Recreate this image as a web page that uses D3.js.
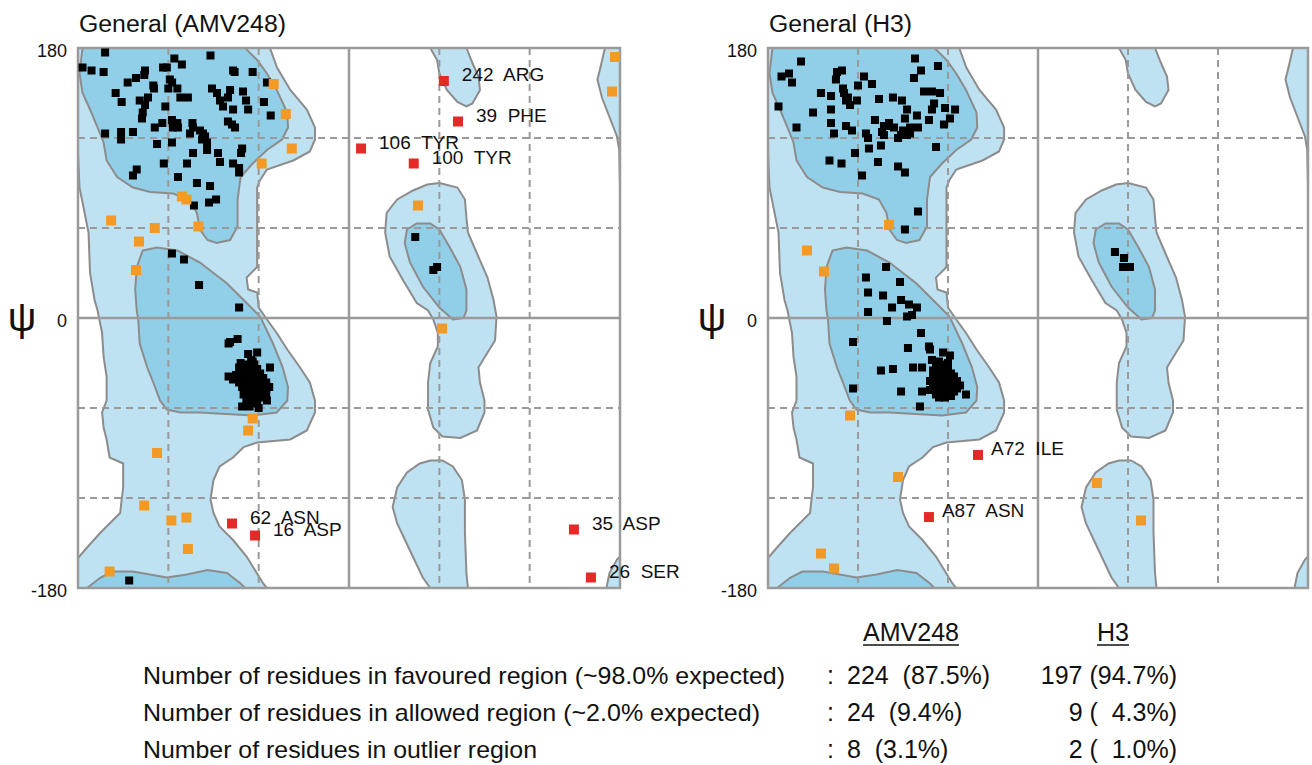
<!DOCTYPE html>
<html>
<head>
<meta charset="utf-8">
<script src="https://cdn.jsdelivr.net/npm/d3@7"></script>
<style>
body{margin:0;background:#fff;}
text{font-family:"Liberation Sans",Arial,sans-serif;fill:#111;}
</style>
</head>
<body>
<div id="chart"></div>
<script>
// grid / axis values (degrees)
const gridDashed = [-120, -60, 60, 120];
const psiTickLabels = [180, 0, -180];

// Ramachandran contours, [phi, psi]
const allowedMain = [[-180,180],[-52.5,180],[-47.8,167],[-39,152],[-28,139],[-22.6,127],[-22.6,119],[-26,111],[-37,105],[-54.5,99],[-59,92],[-61,87],[-61,57],[-61,34],[-68,27],[-67,19],[-61,17],[-60,7],[-54.5,-1],[-48,-10],[-41,-21],[-32.5,-33],[-26,-43],[-22.6,-55],[-22.6,-63],[-28,-75],[-39,-81],[-61,-83],[-70,-86],[-77,-93],[-86,-99],[-90,-108],[-92,-121],[-90,-130],[-86,-139],[-77,-148],[-68,-159],[-57,-177],[-54.5,-180],[-180,-180],[-180,-160],[-174,-153],[-165,-143],[-157,-135],[-152,-130],[-151,-121],[-150,-113],[-150,-97],[-159,-93],[-161,-81],[-163,-73],[-164,-63],[-161,-55],[-161,-39],[-163,-26],[-164,-10],[-167,5],[-169,12],[-172,30],[-173,57],[-177,77],[-179,87],[-180,110]];
const allowedLH = [[60,90],[72,87],[77,79],[78,67],[79,57],[85,43],[92,27],[96,12],[98,1],[97,-15],[89,-28],[86,-33],[87,-43],[90,-55],[90,-63],[85,-75],[74,-80],[62,-79],[56,-73],[52.5,-61],[52.5,-43],[54,-30],[59,-19],[59,-10],[56,-1],[52.5,5],[45,10],[36,25],[27,41],[24,57],[25,70],[32,79],[42.5,85],[52,89]];
const allowedTop60 = [[54,180],[78,180],[82,170],[86,161],[87,152],[82,143],[78,141],[72,144],[65,152],[60,163],[58.5,172]];
const allowedBottom60 = [[54,-95],[62,-95],[69,-99],[75,-108],[77,-121],[77,-143],[78,-170],[79,-180],[54,-180],[49,-173],[40.5,-155],[32,-137],[29,-126],[32,-113],[38.5,-103],[47,-97]];
const allowedEdge = [[170,180],[180,180],[180,88],[179.5,112],[178,121],[173,134],[168,147],[165,159],[167,167]];
const allowedCorner = [[171,-180],[173,-170],[178,-161],[180,-159],[180,-180]];
const favouredBeta = [[-177,180],[-69,180],[-61,172],[-54.5,163],[-48,152],[-41,137],[-40.5,127],[-44.5,119],[-54.5,112],[-64,103],[-72,94],[-74,79],[-74,61],[-79,52],[-88,50],[-94,52],[-99,59],[-101,70],[-106,79],[-117,83],[-132,84],[-143.5,87],[-154,94],[-161,105],[-163,117],[-167,127],[-172,139],[-177,150],[-179,163]];
const favouredBetaWrap = [[-174,-180],[-165,-173],[-157,-169],[-143.5,-169],[-121,-173],[-107.6,-171],[-94,-168],[-81,-170],[-72,-177],[-69,-180]];
const favouredAlpha = [[-137,45],[-127.5,47],[-114,45],[-99,37],[-81,23],[-68,10],[-59,1],[-50.5,-17],[-44,-33],[-40.5,-46],[-41,-55],[-48,-63],[-64,-65],[-99,-63],[-112,-63],[-121,-61],[-125.5,-55],[-130,-43],[-134,-33],[-139,-17],[-140,-1],[-141,5],[-142,19],[-141,34]];
const favouredLH = [[45,63],[54,63],[60,59],[67,47],[74,34],[78,19],[78,5],[76,0],[69,-1],[60,7],[49,21],[40.5,37],[37,50],[38.5,59]];

// AMV248 residues
const amvFavoured = [[-162,177],[-92,175],[-177,167],[-171,165],[-163,164],[-116,173],[-111,169],[-123.5,167],[-121,167],[-135.5,165],[-136,162],[-77,165],[-76,164],[-64,164],[-54.5,157],[-141.5,160],[-147,157],[-130,155],[-129.5,153],[-119,159],[-117.5,157],[-120,153],[-114,153],[-112,147],[-107,147],[-155,150],[-151,144],[-139,145],[-133.5,147],[-135.5,142],[-137,137],[-137.5,133],[-122,141],[-91,153],[-79,152],[-87.7,150],[-80.4,147],[-85.7,145],[-83.7,141],[-70.4,151],[-68.4,145],[-77,139],[-67,139],[-56.5,144],[-52,135],[-129,127],[-124,130],[-117.6,132],[-117,127],[-114,130],[-113.6,127],[-104,130],[-105.6,123],[-103.6,127],[-99,125],[-97.6,119],[-97,123],[-95.6,121],[-94.3,117],[-80.4,131],[-77.7,129],[-75.7,127],[-162,123],[-151.4,124],[-143.5,124],[-151.4,119],[-127.5,116],[-117.6,117],[-103.6,110],[-107.6,103],[-94.3,112],[-87,110],[-71,113],[-71.7,110],[-85.7,104],[-77,103],[-73,100],[-73,97],[-123,103],[-143.5,95],[-141,99],[-113.6,94],[-101,90],[-92.3,88],[-88.3,79],[-93,77],[-103,75],[-117.6,43],[-109.6,39],[-99.6,22],[-73,7],
  [-79,-16],[-74,-14],[-80,-17],[-67,-24],[-61,-23],[-72,-30],[-64,-29],[-80,-39],[-52.5,-33],[-71,-59],[-60,-60],[-54.5,-55],[-68,-55],
  [-75,-38],[-73,-33],[-73,-43],[-71,-36],[-71,-40],[-71,-46],[-69,-31],[-69,-35],[-69,-39],[-69,-43],[-69,-48],[-67,-34],[-67,-38],[-67,-42],[-67,-46],[-67,-51],[-65,-28],[-65,-33],[-65,-37],[-65,-41],[-65,-45],[-65,-49],[-65,-54],[-63,-31],[-63,-35],[-63,-39],[-63,-43],[-63,-47],[-63,-52],[-63,-57],[-61,-34],[-61,-38],[-61,-42],[-61,-46],[-61,-50],[-61,-55],[-59,-37],[-59,-41],[-59,-45],[-59,-49],[-59,-53],[-57,-40],[-57,-44],[-57,-48],[-57,-52],[-55,-43],[-55,-47],[-55,-51],[-53,-46],[-77,-41],[-68,-56],[-66,-59],[-70,-51],
  [-146,-175],[44,54],[56,32],[58.5,34]];
const amvAllowed = [[-50,156],[-42,136],[-38,113],[-58,103],[-111,81],[-108,79],[-158,65],[-129,60],[-100,61],[-139.5,51],[-141.5,32],[176.7,174],[174.7,151],[45.8,75],[61.8,-7],[-64,-67],[-67,-75],[-127.5,-90],[-136,-125],[-118,-135],[-108,-133],[-107,-154],[-159,-169]];
const amvOutliers = [[63,158],[72.4,131],[8,113],[43,103],[-77.7,-137],[-62.4,-145],[149.4,-141],[160.7,-173]];
const amvOutlierLabels = ["242  ARG","39  PHE","106  TYR","100  TYR","62  ASN","16  ASP","35  ASP","26  SER"];

// H3 residues
const h3Favoured = [[-158,171],[-171,161],[-166,163],[-164,157],[-173,141],[-161,127],[-150,137],[-144.7,150],[-138,148],[-138,139],[-138,130],[-136,123],[-139,105],[-131,103],[-134,164],[-130.7,165],[-134.7,159],[-130,153],[-129.3,150],[-128,145],[-125.3,142],[-126.7,147],[-120.7,145],[-120,155],[-116,161],[-110.7,156],[-106,146],[-108.7,132],[-102.7,128],[-99.3,130],[-96.7,147],[-90.7,145],[-87.3,139],[-82,173],[-78,165],[-82.7,160],[-66.7,168],[-76,151],[-70.7,151],[-65.3,150],[-69.3,143],[-70.7,139],[-62,140],[-55.3,139],[-58.7,133],[-62.7,129],[-72.7,132],[-80.7,135],[-80,127],[-85.3,127],[-88.7,133],[-90,125],[-91.3,122],[-93.3,120],[-87.3,122],[-85.3,123],[-96,127],[-100.7,128],[-102.7,122],[-104,124],[-114.7,123],[-113.3,120],[-128,128],[-124,125],[-122,110],[-112.7,113],[-104.7,115],[-106.7,104],[-93.3,101],[-88.7,97],[-68,114],[-117.3,95],[-80,71],[-88.7,59],
  [-101.3,34],[-114.7,27],[-92,24],[-113.3,17],[-103.3,15],[-91.3,12],[-86,9],[-80.7,7],[-97.3,7],[-113.3,4],[-87.3,1],[-84,2],[-100.7,-2],[-78,-10],[-123.3,-16],[-86.7,-20],[-72.7,-19],[-72,-21],[-63.3,-23],[-58.7,-25],[-104.7,-35],[-96.7,-34],[-83.3,-33],[-77.3,-33],[-70.7,-28],[-123.3,-47],[-91.3,-49],[-77.3,-49],[-72,-48],[-78.7,-59],[-48,-51],
  [-70,-35],[-70,-40],[-70,-45],[-68,-32],[-68,-37],[-68,-42],[-68,-47],[-68,-51],[-66,-34],[-66,-39],[-66,-44],[-66,-49],[-66,-53],[-64,-31],[-64,-36],[-64,-41],[-64,-46],[-64,-51],[-62,-33],[-62,-38],[-62,-43],[-62,-48],[-62,-53],[-60,-35],[-60,-40],[-60,-45],[-60,-50],[-58,-37],[-58,-42],[-58,-47],[-58,-52],[-56,-39],[-56,-44],[-56,-49],[-54,-42],[-54,-47],[-52,-45],[-72,-42],[-66,-29],[-60,-30],
  [51.3,44],[57.3,40],[56.7,34],[61.3,34]];
const h3Allowed = [[-99.3,62],[-154,45],[-142.7,31],[-125.3,-65],[-93.3,-106],[-144.7,-157],[-136,-167],[39.3,-110],[68.7,-135]];
const h3Outliers = [[-40,-91.3],[-72.7,-132.7]];
const h3OutlierLabels = ["A72  ILE","A87  ASN"];

// summary table
const summaryLabels = ["Number of residues in favoured region (~98.0% expected)","Number of residues in allowed region (~2.0% expected)","Number of residues in outlier region"];
const summaryLabelWidths = [642, 617, 394];
const structures = ["AMV248","H3"];
const amvCounts = ["224  (87.5%)","24  (9.4%)","8  (3.1%)"];
const h3Counts = ["197 (94.7%)","9 (  4.3%)","2 (  1.0%)"];

const width = 1312, height = 765;
const plotTop = 48, plotBottom = 588;
const light = "#bfe2f3", dark = "#91cfe9", edge = "#8c8c8c", gridCol = "#9a9a9a";

const svg = d3.select("#chart").append("svg")
    .attr("width", width).attr("height", height);

const panels = [
    {x0: 78, x1: 620, title: "General (AMV248)", titleW: 207, fav: amvFavoured, alw: amvAllowed, out: amvOutliers, labels: amvOutlierLabels, labelDx: 18},
    {x0: 768, x1: 1308, title: "General (H3)", titleW: 143, fav: h3Favoured, alw: h3Allowed, out: h3Outliers, labels: h3OutlierLabels, labelDx: 13}
];

panels.forEach((p, i) => {
    const x = d3.scaleLinear().domain([-180, 180]).range([p.x0, p.x1]);
    const y = d3.scaleLinear().domain([-180, 180]).range([plotBottom, plotTop]);
    const g = svg.append("g");

    g.append("clipPath").attr("id", "clip" + i)
        .append("rect")
        .attr("x", p.x0).attr("y", plotTop)
        .attr("width", p.x1 - p.x0).attr("height", plotBottom - plotTop);

    const line = d3.line()
        .x(d => x(d[0])).y(d => y(d[1]))
        .curve(d3.curveLinearClosed);

    const regions = g.append("g").attr("clip-path", "url(#clip" + i + ")");
    [allowedMain, allowedLH, allowedTop60, allowedBottom60, allowedEdge, allowedCorner].forEach(poly => {
        regions.append("path").attr("d", line(poly))
            .attr("fill", light).attr("stroke", edge).attr("stroke-width", 2);
    });
    [favouredBeta, favouredBetaWrap, favouredAlpha, favouredLH].forEach(poly => {
        regions.append("path").attr("d", line(poly))
            .attr("fill", dark).attr("stroke", edge).attr("stroke-width", 2);
    });

    // dashed grid
    g.selectAll(".vgrid").data(gridDashed).join("line")
        .attr("x1", d => x(d)).attr("x2", d => x(d))
        .attr("y1", plotTop).attr("y2", plotBottom)
        .attr("stroke", gridCol).attr("stroke-width", 2).attr("stroke-dasharray", "7,5");
    g.selectAll(".hgrid").data(gridDashed).join("line")
        .attr("y1", d => y(d)).attr("y2", d => y(d))
        .attr("x1", p.x0).attr("x2", p.x1)
        .attr("stroke", gridCol).attr("stroke-width", 2).attr("stroke-dasharray", "7,5");

    // solid zero lines + frame
    g.append("line").attr("x1", x(0)).attr("x2", x(0)).attr("y1", plotTop).attr("y2", plotBottom)
        .attr("stroke", gridCol).attr("stroke-width", 2.5);
    g.append("line").attr("x1", p.x0).attr("x2", p.x1).attr("y1", y(0)).attr("y2", y(0))
        .attr("stroke", gridCol).attr("stroke-width", 2.5);
    g.append("rect").attr("x", p.x0).attr("y", plotTop)
        .attr("width", p.x1 - p.x0).attr("height", plotBottom - plotTop)
        .attr("fill", "none").attr("stroke", gridCol).attr("stroke-width", 2.5);

    // y axis labels
    const yAxis = g.append("g")
        .attr("transform", "translate(" + p.x0 + ",0)")
        .call(d3.axisLeft(y).tickValues(psiTickLabels).tickFormat(d => String(d)).tickSize(0).tickPadding(11));
    yAxis.select(".domain").remove();
    yAxis.selectAll("text").attr("font-size", 18).attr("font-family", "Liberation Sans, Arial, sans-serif")
        .attr("fill", "#111").attr("dy", "0.45em");

    g.append("text").attr("x", p.x0 - 56).attr("y", y(0) + 13)
        .attr("text-anchor", "middle").attr("font-size", 40).text("ψ");

    g.append("text").attr("x", p.x0 + 1).attr("y", 32)
        .attr("font-size", 23).attr("textLength", p.titleW).attr("lengthAdjust", "spacingAndGlyphs")
        .text(p.title);

    // residues
    const s1 = 8, s2 = 10;
    g.selectAll(".fav").data(p.fav).join("rect")
        .attr("x", d => x(d[0]) - s1 / 2).attr("y", d => y(d[1]) - s1 / 2)
        .attr("width", s1).attr("height", s1).attr("fill", "#000");
    g.selectAll(".alw").data(p.alw).join("rect")
        .attr("x", d => x(d[0]) - s2 / 2).attr("y", d => y(d[1]) - s2 / 2)
        .attr("width", s2).attr("height", s2).attr("fill", "#f39a26");
    g.selectAll(".out").data(p.out).join("rect")
        .attr("x", d => x(d[0]) - s2 / 2).attr("y", d => y(d[1]) - s2 / 2)
        .attr("width", s2).attr("height", s2).attr("fill", "#e42a27");
    g.selectAll(".lbl").data(p.out).join("text")
        .attr("x", d => x(d[0]) + p.labelDx).attr("y", d => y(d[1]))
        .attr("font-size", 19).style("white-space", "pre")
        .text((d, j) => p.labels[j]);
});

// summary table
const tbl = svg.append("g").attr("font-size", 25);
const headerX = [911, 1113];
structures.forEach((s, i) => {
    const t = tbl.append("text").attr("x", headerX[i]).attr("y", 641)
        .attr("text-anchor", "middle").text(s);
    const w = t.node().getComputedTextLength();
    tbl.append("line").attr("x1", headerX[i] - w / 2).attr("x2", headerX[i] + w / 2)
        .attr("y1", 645).attr("y2", 645).attr("stroke", "#111").attr("stroke-width", 1.5);
});
const rowY = [684, 721, 758];
summaryLabels.forEach((s, i) => {
    tbl.append("text").attr("x", 143).attr("y", rowY[i]).attr("font-size", 24)
        .attr("textLength", summaryLabelWidths[i]).attr("lengthAdjust", "spacingAndGlyphs")
        .text(s);
    tbl.append("text").attr("x", 827).attr("y", rowY[i]).text(":");
    tbl.append("text").attr("x", 847).attr("y", rowY[i]).style("white-space", "pre").text(amvCounts[i]);
    tbl.append("text").attr("x", 1177).attr("y", rowY[i]).attr("text-anchor", "end")
        .style("white-space", "pre").text(h3Counts[i]);
});
</script>
</body>
</html>
